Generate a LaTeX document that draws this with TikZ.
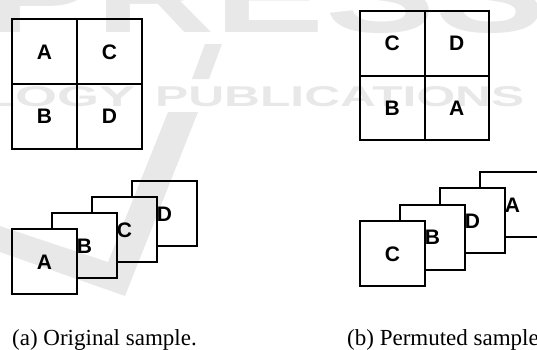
\documentclass[tikz,border=0pt]{standalone}
\usepackage{fontspec}
\setmainfont{Liberation Serif}
\newfontfamily\labelfont{Liberation Sans}
\usepackage{graphicx}

\tikzset{
  cellbox/.style={draw, line width=2pt, minimum size=65pt, inner sep=0pt,
    font=\labelfont\bfseries\fontsize{21}{21}\selectfont,
    text height=15pt, text depth=0pt},
  tilebox/.style={cellbox, fill=white},
  captext/.style={font=\fontsize{23}{23}\selectfont, inner sep=0pt, anchor=base west},
  wmark/.style={fill=black, fill opacity=0.09, draw=none},
  wmtext/.style={inner sep=0pt, text opacity=0.09, font=\labelfont\bfseries, anchor=south west}
}

\begin{document}
\begin{tikzpicture}[x=1pt, y=-1pt]
  \useasboundingbox (0,0) rectangle (537,349);
  \clip (0,0) rectangle (537,349);

  % (a) original 2x2 grid
  \node[cellbox] (ga1) at (44.5,51.5)  {A};
  \node[cellbox] (ga2) at (109.5,51.5) {C};
  \node[cellbox] (ga3) at (44.5,116)   {B};
  \node[cellbox] (ga4) at (109.5,116)  {D};

  % (b) permuted 2x2 grid
  \node[cellbox, minimum size=64.5pt] (gb1) at (392.25,43.25)  {C};
  \node[cellbox, minimum size=64.5pt] (gb2) at (456.75,43.25)  {D};
  \node[cellbox, minimum size=64.5pt] (gb3) at (392.25,107.75) {B};
  \node[cellbox, minimum size=64.5pt] (gb4) at (456.75,107.75) {A};

  % (a) stacked tiles, drawn back to front
  \node[tilebox] (sa4) at (164.5,213.5) {D};
  \node[tilebox] (sa3) at (124.5,229.5) {C};
  \node[tilebox] (sa2) at (84.5,245.5)  {B};
  \node[tilebox] (sa1) at (44.5,261.5)  {A};

  % (b) stacked tiles, drawn back to front
  \node[tilebox] (sb4) at (512.5,204.6) {A};
  \node[tilebox] (sb3) at (472.5,220.9) {D};
  \node[tilebox] (sb2) at (432.5,237.2) {B};
  \node[tilebox] (sb1) at (392.5,253.5) {C};

  % captions
  \node[captext] (capa) at (12,345)  {(a) Original sample.};
  \node[captext] (capb) at (347,345) {(b) Permuted sample.};

  % publisher watermark
  \fill[wmark] (0,226) -- (108,262) -- (168,112) -- (198,112) -- (125,296) -- (0,252) -- cycle;
  \fill[wmark] (205,44) -- (222,44) -- (209,79) -- (192,79) -- cycle;
  \node[wmtext] (wm1) at (-18,107) {\resizebox{153pt}{20pt}{LOGY}};
  \node[wmtext] (wm2) at (155,107) {\resizebox{369pt}{20pt}{PUBLICATIONS}};
  \node[wmtext] (wm3) at (-15,34)  {\resizebox{560pt}{75pt}{PRESS}};
\end{tikzpicture}
\end{document}
